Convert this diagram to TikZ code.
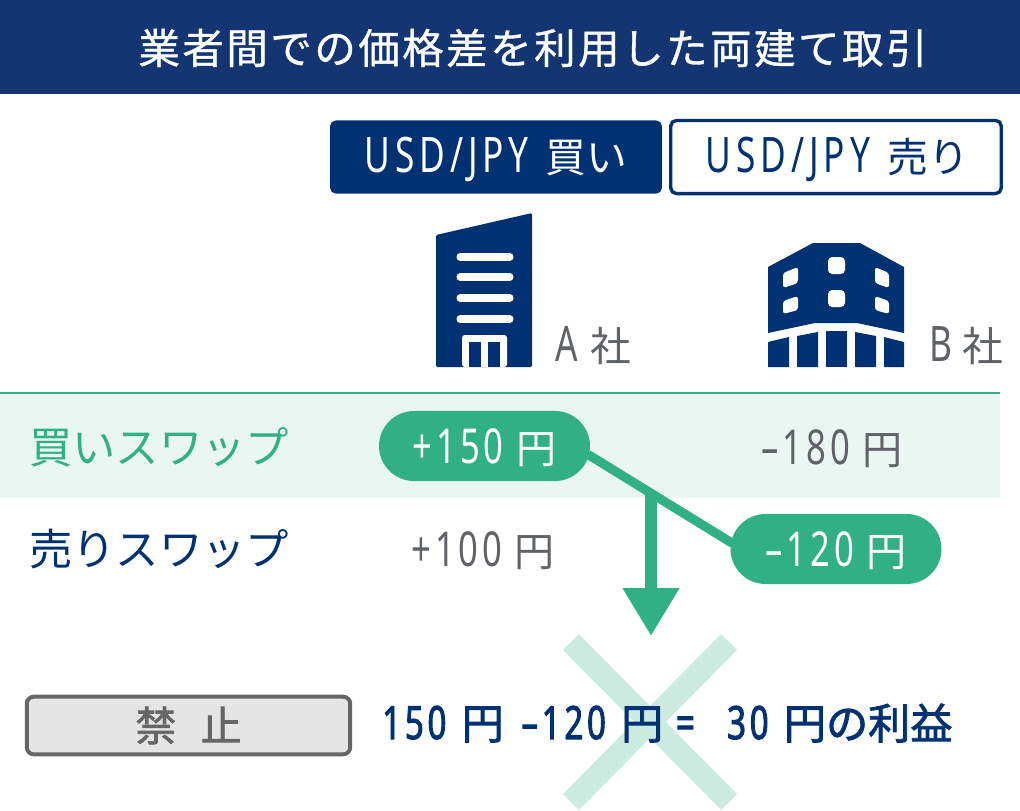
\documentclass[tikz,border=0pt]{standalone}
\usepackage{fontspec}
\setmainfont{Noto Sans CJK JP}
\newfontfamily\din[FakeStretch=0.72, Scale=1.2, LetterSpace=8]{Noto Sans}
\newfontfamily\dinb[FakeStretch=0.72, Scale=1.09, LetterSpace=8, FakeBold=2]{Noto Sans}
\usetikzlibrary{arrows.meta, positioning}
\definecolor{navy}{HTML}{003273}
\definecolor{banner}{HTML}{133673}
\definecolor{swapgreen}{HTML}{32B085}
\definecolor{band}{HTML}{E9F6F2}
\definecolor{crossgreen}{HTML}{CBEBE0}
\definecolor{txtgray}{HTML}{5F6368}
\definecolor{stopgray}{HTML}{666666}
\newcommand{\amount}[1]{\raisebox{-1.5pt}[\height][\depth]{{\din #1}\hspace{0.31em}円}}
\newcommand{\pair}[1]{\raisebox{-1.5pt}[\height][\depth]{{\din\addfontfeature{LetterSpace=10}USD/JPY}\hspace{0.42em}#1}}
\tikzstyle{price} = [text=txtgray, font=\fontsize{28.5}{30}\selectfont, inner sep=0pt]
\tikzstyle{pill} = [price, text=white, fill=swapgreen, rounded corners=35*0.7113pt, minimum width=150pt, minimum height=49.8pt]
\tikzstyle{rowlabel} = [font=\fontsize{30.8}{32}\selectfont, inner sep=0pt, anchor=west]
\tikzstyle{pairbox} = [rounded corners=4pt, minimum height=52pt, inner sep=0pt, font=\fontsize{29}{30}\selectfont]
\tikzstyle{company} = [text=txtgray, font=\fontsize{29}{30}\selectfont, inner sep=0pt, anchor=west]
\tikzstyle{line} = [draw, swapgreen, line width=6.5pt]
\begin{document}
\begin{tikzpicture}[x=0.025cm, y=-0.025cm]
	\useasboundingbox (0,0) rectangle (1020,810);

	% header
	\fill [banner] (0,0) rectangle (1020,94);
	\node [text=white, inner sep=0pt, font=\fontsize{29.5}{30}\selectfont\addfontfeature{LetterSpace=6, FakeBold=0.8}] (title) at (533,48) {業者間での価格差を利用した両建て取引};

	% buy and sell keys
	\node [pairbox, fill=navy, text=white, minimum width=236pt] (buykey) at (496,157) {\pair{買い}};
	\node [pairbox, draw=navy, line width=2.4pt, text=navy, fill=white, minimum width=235pt, text width=235pt, align=center] (sellkey) at (836,157) {\hspace*{2pt}\pair{売り}};

	% company A
	\fill [navy, rounded corners=1pt] (436,235) -- (532,213) -- (532,367) -- (436,367) -- cycle;
	\draw [white, line width=5pt, line cap=round] (460,257) -- (510,257);
	\draw [white, line width=5pt, line cap=round] (460,277) -- (510,277);
	\draw [white, line width=5pt, line cap=round] (460,298) -- (510,298);
	\draw [white, line width=5pt, line cap=round] (460,319) -- (510,319);
	\fill [white, rounded corners=2pt] (462,367) -- (462,335) -- (507,335) -- (507,367) -- cycle;
	\fill [navy] (469,342) rectangle (481,367);
	\fill [navy] (488,342) rectangle (500,367);
	\node [company] (firma) at (555,346) {{\din A}\hspace{0.3em}社};

	% company B
	\fill [navy] (768,267) -- (813,243) -- (860,243) -- (904,267) -- (904,333) -- (857,323) -- (815,323) -- (768,333) -- cycle;
	\fill [white, rounded corners=3pt] (828,257) rectangle (845,274);
	\fill [white, rounded corners=3pt] (828,290) rectangle (845,307);
	\fill [white, rounded corners=2pt] (783,273) -- (798,267) -- (798,283) -- (783,288) -- cycle;
	\fill [white, rounded corners=2pt] (783,301) -- (798,296) -- (798,310) -- (783,314) -- cycle;
	\fill [white, rounded corners=2pt] (875,267) -- (889,273) -- (889,288) -- (875,283) -- cycle;
	\fill [white, rounded corners=2pt] (875,296) -- (889,301) -- (889,314) -- (875,310) -- cycle;
	\fill [navy] (768,342) -- (789,337) -- (789,367) -- (768,367) -- cycle;
	\fill [navy] (797,336) -- (818,332) -- (818,367) -- (797,367) -- cycle;
	\fill [navy] (826,331) rectangle (847,367);
	\fill [navy] (855,332) -- (876,336) -- (876,367) -- (855,367) -- cycle;
	\fill [navy] (884,337) -- (904,342) -- (904,367) -- (884,367) -- cycle;
	\node [company] (firmb) at (929,346) {{\din B}\hspace{0.25em}社};

	% swap table
	\fill [band] (0,394) rectangle (1000,498);
	\draw [swapgreen, line width=1.3pt] (0,393) -- (1000,393);
	\node [rowlabel, text=swapgreen] (buyrow) at (29,447) {買いスワップ};
	\node [rowlabel, text=navy] (sellrow) at (29,549) {売りスワップ};

	\node [pill] (abuy) at (484.5,446) {\amount{+150}};
	\node [price] (bbuy) at (832,447) {\amount{–180}};
	\node [price] (asell) at (483,549) {\amount{+100}};
	\node [pill] (bsell) at (836,549) {\amount{–120}};

	% profit
	\coordinate (legfrom) at ([yshift=-7pt]abuy.east);
	\coordinate (legto) at ([yshift=5pt]bsell.west);
	\coordinate (split) at (651,492);
	\coordinate (tip) at (651,636);
	\path [line, shorten >=-2pt, shorten <=-2pt] (legfrom) -- (legto);
	\draw [swapgreen, line width=8.5pt, -{Triangle[width=38pt, length=34pt]}] (split) -- (tip);

	% bottom row
	\draw [crossgreen, line width=16pt] (571,642) -- (729,802);
	\draw [crossgreen, line width=16pt] (729,642) -- (571,802);
	\node [draw=stopgray, line width=2.8pt, fill=black!10, rounded corners=5pt, minimum width=230pt, minimum height=41pt, inner sep=0pt, text=stopgray, font=\fontsize{29}{30}\selectfont\addfontfeature{FakeBold=2}] (stop) at (188.5,725.5) {禁\hspace{0.6em}止};
	\node [text=navy, inner sep=0pt, anchor=west, font=\fontsize{30}{32}\selectfont\addfontfeature{FakeBold=2}] (profit) at (382,723) {{\dinb 150}\hspace{0.36em}円\hspace{0.42em}{\dinb –120}\hspace{0.36em}円\hspace{0.3em}{\dinb =\hspace{0.7em}30}\hspace{0.36em}円の利益};
\end{tikzpicture}
\end{document}
